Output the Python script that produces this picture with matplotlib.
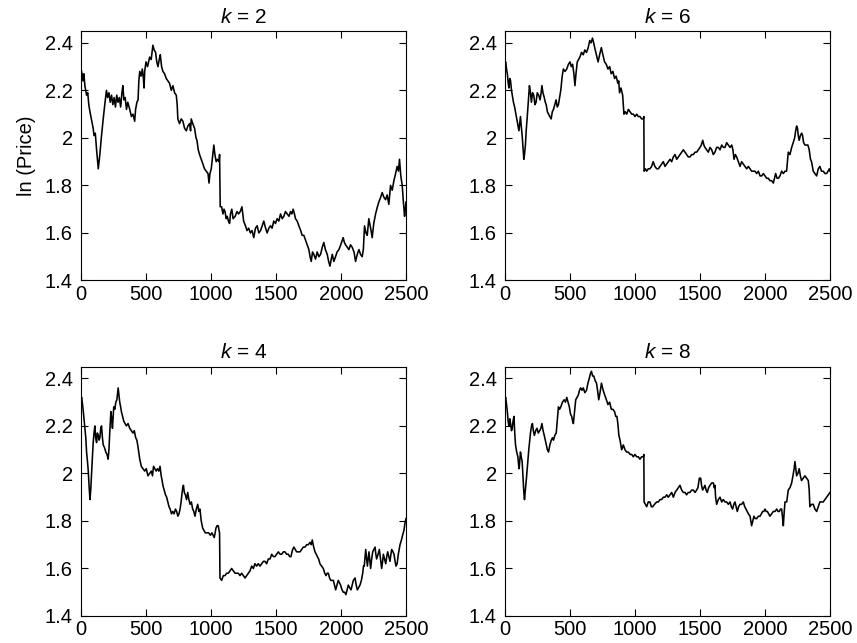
import matplotlib
matplotlib.use("Agg")
import matplotlib.pyplot as plt

plt.rcParams["font.family"] = ["Liberation Sans", "DejaVu Sans"]
plt.rcParams["mathtext.fontset"] = "custom"
plt.rcParams["mathtext.it"] = "Liberation Sans:italic"
plt.rcParams["mathtext.rm"] = "Liberation Sans"

# Data (time step, ln price) ----------------------------------------------------

k2_points = [
    (0, 2.29), (8, 2.27), (15, 2.24), (22, 2.27), (30, 2.22), (43, 2.18), (52, 2.19), (60, 2.14),
    (69, 2.11), (80, 2.08), (94, 2.04), (100, 2.01), (110, 2.02), (120, 1.95), (133, 1.87),
    (145, 1.93), (158, 2.01), (171, 2.08), (185, 2.15), (196, 2.20), (205, 2.17), (215, 2.19),
    (225, 2.15), (235, 2.18), (245, 2.14), (255, 2.17), (265, 2.13), (275, 2.18), (285, 2.15),
    (295, 2.17), (305, 2.13), (315, 2.19), (322, 2.22), (330, 2.16), (340, 2.17), (350, 2.12),
    (360, 2.15), (375, 2.12), (388, 2.09), (400, 2.10), (413, 2.07), (420, 2.12), (430, 2.15),
    (439, 2.16), (445, 2.24), (452, 2.28), (462, 2.26), (472, 2.29), (480, 2.25), (485, 2.21),
    (490, 2.28), (500, 2.32), (512, 2.30), (528, 2.34), (540, 2.33), (553, 2.39), (563, 2.37),
    (574, 2.36), (583, 2.32), (592, 2.30), (602, 2.33), (610, 2.35), (620, 2.30), (630, 2.28),
    (643, 2.27), (656, 2.25), (668, 2.24), (681, 2.23), (695, 2.20), (707, 2.22), (720, 2.19),
    (733, 2.18), (740, 2.14), (745, 2.08), (758, 2.06), (771, 2.08), (784, 2.07), (797, 2.04),
    (810, 2.03), (822, 2.05), (835, 2.06), (843, 2.03), (848, 2.08), (860, 2.06), (874, 2.04),
    (885, 2.00), (892, 1.99), (902, 1.95), (912, 1.93), (925, 1.91), (938, 1.89), (950, 1.87),
    (964, 1.86), (977, 1.85), (985, 1.81), (992, 1.85), (1002, 1.87), (1012, 1.92), (1022, 1.97),
    (1030, 1.93), (1040, 1.90), (1050, 1.91), (1062, 1.90), (1066, 1.93), (1071, 1.71),
    (1082, 1.71), (1092, 1.68), (1100, 1.70), (1108, 1.69), (1117, 1.66), (1125, 1.67),
    (1134, 1.65), (1143, 1.64), (1150, 1.68), (1160, 1.70), (1170, 1.66), (1186, 1.67),
    (1200, 1.69), (1212, 1.68), (1225, 1.69), (1238, 1.71), (1251, 1.65), (1265, 1.63),
    (1277, 1.61), (1290, 1.62), (1303, 1.60), (1316, 1.61), (1329, 1.58), (1342, 1.62),
    (1355, 1.63), (1368, 1.60), (1381, 1.61), (1394, 1.63), (1406, 1.65), (1420, 1.62),
    (1432, 1.60), (1445, 1.62), (1458, 1.63), (1470, 1.62), (1483, 1.65), (1496, 1.64),
    (1509, 1.66), (1522, 1.65), (1535, 1.68), (1548, 1.66), (1560, 1.67), (1573, 1.69),
    (1586, 1.68), (1600, 1.67), (1612, 1.69), (1622, 1.68), (1632, 1.70), (1642, 1.68),
    (1650, 1.66), (1663, 1.65), (1676, 1.63), (1690, 1.61), (1701, 1.59), (1714, 1.59),
    (1727, 1.57), (1740, 1.55), (1753, 1.53), (1762, 1.50), (1771, 1.48), (1781, 1.52),
    (1791, 1.51), (1804, 1.49), (1817, 1.52), (1830, 1.50), (1843, 1.51), (1856, 1.54),
    (1868, 1.56), (1880, 1.53), (1894, 1.51), (1905, 1.48), (1915, 1.46), (1925, 1.49),
    (1933, 1.51), (1945, 1.48), (1958, 1.50), (1970, 1.52), (1984, 1.53), (1998, 1.55),
    (2010, 1.57), (2017, 1.58), (2026, 1.56), (2035, 1.55), (2048, 1.54), (2061, 1.53),
    (2073, 1.55), (2086, 1.54), (2100, 1.52), (2112, 1.48), (2125, 1.51), (2138, 1.53),
    (2150, 1.51), (2163, 1.50), (2172, 1.53), (2181, 1.63), (2192, 1.60), (2202, 1.59),
    (2214, 1.66), (2228, 1.62), (2240, 1.58), (2252, 1.64), (2266, 1.68), (2280, 1.71),
    (2291, 1.73), (2305, 1.75), (2317, 1.77), (2330, 1.75), (2343, 1.74), (2355, 1.76),
    (2368, 1.72), (2381, 1.80), (2394, 1.78), (2407, 1.82), (2420, 1.85), (2432, 1.88),
    (2442, 1.86), (2450, 1.91), (2460, 1.84), (2471, 1.80), (2480, 1.73), (2489, 1.67),
    (2495, 1.70), (2500, 1.73),
]

k6_points = [
    (0, 2.31), (5, 2.32), (12, 2.29), (18, 2.27), (25, 2.23), (30, 2.21), (37, 2.25), (43, 2.24),
    (50, 2.20), (56, 2.18), (65, 2.15), (74, 2.13), (84, 2.10), (94, 2.07), (100, 2.05),
    (107, 2.03), (113, 2.06), (119, 2.09), (125, 2.05), (132, 2.01), (140, 1.95), (145, 1.91),
    (150, 1.93), (157, 1.97), (163, 2.03), (170, 2.08), (180, 2.16), (188, 2.22), (196, 2.19),
    (203, 2.15), (212, 2.19), (221, 2.18), (230, 2.14), (239, 2.15), (248, 2.19), (259, 2.18),
    (270, 2.16), (278, 2.19), (284, 2.22), (292, 2.19), (302, 2.17), (310, 2.15), (317, 2.14),
    (326, 2.11), (335, 2.10), (345, 2.09), (355, 2.08), (364, 2.11), (373, 2.12), (383, 2.14),
    (393, 2.16), (402, 2.13), (411, 2.14), (420, 2.17), (429, 2.20), (440, 2.26), (449, 2.29),
    (462, 2.28), (475, 2.29), (488, 2.31), (500, 2.32), (510, 2.30), (520, 2.31), (530, 2.27),
    (538, 2.22), (546, 2.27), (556, 2.32), (566, 2.33), (576, 2.34), (589, 2.36), (602, 2.35),
    (614, 2.37), (627, 2.36), (640, 2.38), (652, 2.41), (662, 2.40), (673, 2.42), (682, 2.40),
    (690, 2.38), (703, 2.35), (716, 2.32), (728, 2.35), (741, 2.38), (753, 2.35), (766, 2.32),
    (779, 2.31), (792, 2.29), (805, 2.30), (817, 2.27), (830, 2.28), (843, 2.25), (855, 2.26),
    (868, 2.23), (875, 2.24), (881, 2.19), (892, 2.21), (905, 2.18), (915, 2.10), (925, 2.11),
    (936, 2.10), (949, 2.12), (962, 2.11), (975, 2.10), (987, 2.10), (1000, 2.09), (1013, 2.10),
    (1025, 2.09), (1038, 2.09), (1051, 2.08), (1064, 2.08), (1068, 2.09), (1070, 1.86),
    (1080, 1.87), (1090, 1.86), (1102, 1.87), (1115, 1.87), (1128, 1.88), (1140, 1.90),
    (1153, 1.88), (1167, 1.87), (1180, 1.87), (1192, 1.88), (1205, 1.89), (1218, 1.90),
    (1231, 1.88), (1244, 1.89), (1256, 1.90), (1269, 1.91), (1282, 1.90), (1295, 1.92),
    (1308, 1.93), (1321, 1.91), (1334, 1.92), (1346, 1.93), (1359, 1.94), (1372, 1.95),
    (1385, 1.94), (1397, 1.93), (1410, 1.92), (1423, 1.92), (1436, 1.93), (1449, 1.93),
    (1462, 1.94), (1474, 1.94), (1487, 1.95), (1500, 1.96), (1510, 1.97), (1521, 1.99),
    (1530, 1.97), (1538, 1.96), (1551, 1.95), (1564, 1.94), (1577, 1.96), (1590, 1.95),
    (1602, 1.93), (1615, 1.94), (1628, 1.96), (1641, 1.96), (1654, 1.95), (1667, 1.97),
    (1680, 1.96), (1692, 1.96), (1705, 1.98), (1718, 1.97), (1731, 1.96), (1744, 1.97),
    (1753, 1.95), (1762, 1.91), (1772, 1.93), (1782, 1.92), (1795, 1.90), (1808, 1.88),
    (1820, 1.90), (1833, 1.89), (1846, 1.88), (1859, 1.87), (1872, 1.88), (1885, 1.87),
    (1897, 1.86), (1910, 1.86), (1923, 1.86), (1936, 1.85), (1949, 1.86), (1962, 1.84),
    (1975, 1.84), (1987, 1.85), (2000, 1.84), (2013, 1.83), (2026, 1.83), (2038, 1.82),
    (2051, 1.82), (2064, 1.81), (2073, 1.83), (2082, 1.85), (2093, 1.83), (2103, 1.83),
    (2115, 1.84), (2128, 1.86), (2141, 1.85), (2154, 1.86), (2166, 1.86), (2179, 1.94),
    (2192, 1.93), (2205, 1.96), (2217, 1.98), (2228, 2.00), (2236, 2.03), (2243, 2.05),
    (2250, 2.04), (2256, 2.01), (2263, 1.99), (2272, 2.01), (2282, 2.02), (2289, 2.01),
    (2297, 1.98), (2307, 1.97), (2320, 1.97), (2330, 1.97), (2340, 1.95), (2350, 1.91),
    (2358, 1.90), (2371, 1.86), (2384, 1.85), (2397, 1.84), (2410, 1.87), (2422, 1.88),
    (2435, 1.86), (2448, 1.86), (2461, 1.85), (2474, 1.85), (2485, 1.86), (2495, 1.87),
    (2500, 1.86),
]

k4_points = [
    (0, 2.31), (5, 2.32), (12, 2.29), (18, 2.26), (25, 2.22), (31, 2.19), (37, 2.15), (43, 2.09),
    (50, 2.05), (56, 2.01), (62, 1.95), (69, 1.89), (75, 1.93), (82, 2.01), (88, 2.07),
    (94, 2.13), (100, 2.17), (107, 2.20), (113, 2.15), (120, 2.13), (126, 2.17), (133, 2.16),
    (139, 2.14), (145, 2.15), (152, 2.19), (158, 2.20), (165, 2.15), (171, 2.12), (180, 2.11),
    (191, 2.09), (200, 2.08), (209, 2.06), (215, 2.10), (222, 2.18), (230, 2.26), (236, 2.23),
    (242, 2.19), (248, 2.24), (252, 2.28), (260, 2.27), (268, 2.30), (276, 2.31), (286, 2.36),
    (292, 2.33), (298, 2.30), (305, 2.28), (311, 2.26), (320, 2.24), (329, 2.22), (339, 2.21),
    (349, 2.20), (362, 2.21), (375, 2.19), (388, 2.18), (400, 2.17), (410, 2.18), (421, 2.15),
    (430, 2.14), (439, 2.11), (452, 2.06), (464, 2.03), (477, 2.02), (490, 2.01), (502, 2.02),
    (515, 1.99), (528, 2.00), (541, 2.01), (550, 1.99), (558, 2.03), (568, 2.02), (579, 2.01),
    (589, 2.02), (599, 2.01), (608, 2.03), (617, 1.99), (624, 1.97), (630, 1.95), (640, 1.93),
    (650, 1.91), (659, 1.90), (668, 1.88), (677, 1.86), (686, 1.85), (696, 1.83), (706, 1.84),
    (716, 1.83), (727, 1.85), (736, 1.84), (745, 1.82), (754, 1.83), (762, 1.85), (770, 1.88),
    (778, 1.92), (783, 1.94), (788, 1.95), (795, 1.92), (803, 1.91), (812, 1.89), (821, 1.92),
    (830, 1.89), (839, 1.87), (849, 1.88), (859, 1.85), (868, 1.84), (877, 1.82), (887, 1.85),
    (898, 1.87), (906, 1.84), (915, 1.85), (925, 1.80), (936, 1.77), (946, 1.76), (956, 1.75),
    (969, 1.75), (982, 1.75), (995, 1.74), (1007, 1.75), (1016, 1.74), (1025, 1.73),
    (1032, 1.75), (1038, 1.77), (1047, 1.78), (1056, 1.78), (1062, 1.76), (1066, 1.75),
    (1069, 1.56), (1082, 1.55), (1095, 1.57), (1108, 1.57), (1120, 1.58), (1133, 1.58),
    (1146, 1.59), (1159, 1.60), (1172, 1.59), (1185, 1.58), (1197, 1.58), (1210, 1.58),
    (1223, 1.57), (1236, 1.58), (1249, 1.57), (1262, 1.56), (1275, 1.57), (1287, 1.58),
    (1300, 1.59), (1313, 1.61), (1326, 1.60), (1338, 1.62), (1351, 1.61), (1364, 1.62),
    (1377, 1.61), (1390, 1.62), (1403, 1.63), (1415, 1.63), (1428, 1.62), (1441, 1.64),
    (1454, 1.64), (1467, 1.66), (1480, 1.65), (1492, 1.65), (1505, 1.66), (1518, 1.67),
    (1531, 1.66), (1544, 1.66), (1557, 1.67), (1569, 1.67), (1582, 1.66), (1595, 1.66),
    (1605, 1.65), (1615, 1.65), (1628, 1.68), (1638, 1.69), (1648, 1.68), (1659, 1.67),
    (1672, 1.67), (1685, 1.67), (1697, 1.68), (1710, 1.69), (1723, 1.69), (1736, 1.70),
    (1749, 1.70), (1762, 1.71), (1771, 1.70), (1779, 1.72), (1790, 1.69), (1800, 1.67),
    (1810, 1.66), (1818, 1.65), (1828, 1.64), (1838, 1.62), (1851, 1.61), (1864, 1.60),
    (1875, 1.58), (1885, 1.57), (1894, 1.58), (1903, 1.58), (1912, 1.56), (1921, 1.55),
    (1931, 1.55), (1941, 1.55), (1950, 1.53), (1959, 1.51), (1969, 1.53), (1979, 1.55),
    (1988, 1.54), (1997, 1.53), (2008, 1.51), (2018, 1.50), (2028, 1.50), (2038, 1.49),
    (2047, 1.51), (2056, 1.53), (2066, 1.52), (2077, 1.51), (2086, 1.53), (2095, 1.55),
    (2108, 1.56), (2117, 1.53), (2126, 1.51), (2136, 1.52), (2146, 1.53), (2157, 1.55),
    (2167, 1.58), (2173, 1.61), (2179, 1.61), (2185, 1.65), (2190, 1.68), (2197, 1.64),
    (2203, 1.61), (2209, 1.64), (2215, 1.67), (2222, 1.63), (2228, 1.60), (2236, 1.64),
    (2244, 1.67), (2253, 1.68), (2262, 1.69), (2268, 1.66), (2274, 1.64), (2285, 1.66),
    (2295, 1.68), (2304, 1.64), (2313, 1.60), (2320, 1.63), (2326, 1.66), (2335, 1.64),
    (2344, 1.62), (2352, 1.65), (2359, 1.67), (2368, 1.65), (2377, 1.63), (2384, 1.66),
    (2390, 1.68), (2400, 1.67), (2408, 1.66), (2416, 1.63), (2423, 1.61), (2432, 1.62),
    (2441, 1.66), (2454, 1.70), (2465, 1.72), (2474, 1.74), (2484, 1.76), (2492, 1.79),
    (2500, 1.81),
]

k8_points = [
    (0, 2.31), (5, 2.32), (12, 2.29), (18, 2.26), (24, 2.22), (30, 2.20), (37, 2.23), (43, 2.21),
    (50, 2.18), (56, 2.19), (62, 2.22), (69, 2.24), (75, 2.17), (81, 2.12), (90, 2.09),
    (99, 2.07), (104, 2.04), (109, 2.02), (115, 2.06), (119, 2.09), (125, 2.07), (132, 2.05),
    (140, 1.97), (145, 1.92), (150, 1.89), (157, 1.93), (165, 1.98), (174, 2.04), (183, 2.10),
    (190, 2.14), (196, 2.17), (204, 2.20), (211, 2.21), (218, 2.18), (226, 2.16), (236, 2.18),
    (246, 2.19), (256, 2.17), (267, 2.18), (276, 2.19), (284, 2.21), (293, 2.18), (302, 2.16),
    (310, 2.14), (318, 2.12), (326, 2.10), (335, 2.09), (345, 2.12), (356, 2.14), (365, 2.15),
    (373, 2.14), (383, 2.16), (394, 2.17), (402, 2.22), (411, 2.28), (420, 2.27), (429, 2.28),
    (442, 2.30), (455, 2.31), (465, 2.30), (475, 2.32), (485, 2.30), (495, 2.28), (504, 2.25),
    (513, 2.24), (520, 2.22), (526, 2.21), (535, 2.26), (544, 2.31), (554, 2.32), (564, 2.33),
    (573, 2.35), (582, 2.36), (592, 2.35), (602, 2.36), (614, 2.34), (627, 2.35), (638, 2.38),
    (648, 2.40), (657, 2.42), (665, 2.43), (674, 2.41), (683, 2.41), (694, 2.39), (704, 2.38),
    (712, 2.35), (721, 2.31), (731, 2.34), (742, 2.38), (755, 2.35), (767, 2.33), (780, 2.31),
    (792, 2.29), (805, 2.30), (818, 2.27), (830, 2.27), (843, 2.26), (852, 2.24), (861, 2.24),
    (868, 2.21), (876, 2.16), (885, 2.14), (891, 2.12), (897, 2.10), (904, 2.11), (910, 2.12),
    (923, 2.10), (936, 2.09), (949, 2.09), (962, 2.08), (975, 2.08), (987, 2.07), (1000, 2.08),
    (1013, 2.07), (1026, 2.07), (1038, 2.06), (1051, 2.07), (1064, 2.07), (1068, 2.08),
    (1070, 1.88), (1080, 1.87), (1090, 1.86), (1102, 1.88), (1115, 1.88), (1126, 1.86),
    (1136, 1.86), (1150, 1.87), (1167, 1.88), (1180, 1.88), (1192, 1.89), (1205, 1.89),
    (1218, 1.90), (1231, 1.90), (1244, 1.91), (1256, 1.90), (1269, 1.91), (1282, 1.92),
    (1295, 1.90), (1308, 1.92), (1321, 1.93), (1334, 1.94), (1346, 1.95), (1359, 1.93),
    (1372, 1.92), (1385, 1.92), (1397, 1.91), (1410, 1.92), (1423, 1.92), (1436, 1.93),
    (1449, 1.93), (1462, 1.92), (1474, 1.93), (1484, 1.94), (1495, 1.98), (1505, 1.98),
    (1512, 1.95), (1520, 1.93), (1530, 1.94), (1538, 1.95), (1547, 1.93), (1556, 1.92),
    (1566, 1.94), (1577, 1.95), (1590, 1.96), (1603, 1.96), (1610, 1.94), (1615, 1.95),
    (1620, 1.90), (1628, 1.87), (1641, 1.89), (1654, 1.90), (1667, 1.88), (1679, 1.89),
    (1692, 1.88), (1705, 1.88), (1718, 1.87), (1731, 1.88), (1741, 1.86), (1751, 1.85),
    (1760, 1.87), (1769, 1.88), (1778, 1.86), (1787, 1.84), (1797, 1.86), (1808, 1.87),
    (1820, 1.87), (1833, 1.88), (1844, 1.86), (1854, 1.85), (1863, 1.84), (1872, 1.83),
    (1885, 1.82), (1891, 1.80), (1897, 1.78), (1906, 1.80), (1915, 1.82), (1925, 1.81),
    (1936, 1.81), (1949, 1.82), (1962, 1.82), (1972, 1.83), (1982, 1.84), (1991, 1.84),
    (2000, 1.85), (2009, 1.84), (2018, 1.84), (2028, 1.83), (2038, 1.82), (2051, 1.83),
    (2064, 1.84), (2077, 1.84), (2090, 1.85), (2100, 1.84), (2110, 1.84), (2120, 1.85),
    (2128, 1.85), (2134, 1.82), (2141, 1.78), (2148, 1.84), (2154, 1.88), (2167, 1.88),
    (2179, 1.93), (2192, 1.94), (2205, 1.96), (2215, 1.99), (2224, 2.02), (2230, 2.05),
    (2237, 2.02), (2243, 1.99), (2253, 2.00), (2263, 2.02), (2272, 1.99), (2281, 1.97),
    (2294, 1.98), (2307, 1.99), (2320, 1.98), (2333, 1.97), (2340, 1.93), (2345, 1.86),
    (2358, 1.87), (2371, 1.87), (2384, 1.85), (2397, 1.84), (2410, 1.86), (2422, 1.88),
    (2435, 1.88), (2448, 1.88), (2461, 1.89), (2474, 1.90), (2487, 1.91), (2500, 1.92),
]

x_ticks = [0, 500, 1000, 1500, 2000, 2500]
y_ticks = [1.4, 1.6, 1.8, 2.0, 2.2, 2.4]
y_tick_labels = ["1.4", "1.6", "1.8", "2", "2.2", "2.4"]


# Utilities ----------------------------------------------------------------------


def plot_panel(ax, title, points):
    t = [p[0] for p in points]
    v = [p[1] for p in points]
    ax.plot(t, v, color="black", linewidth=1.15)
    ax.set_xlim(0, 2500)
    ax.set_ylim(1.4, 2.45)
    ax.set_xticks(x_ticks)
    ax.set_yticks(y_ticks)
    ax.set_yticklabels(y_tick_labels)
    ax.tick_params(direction="in", top=True, right=True, length=5, width=0.8, labelsize=14.5)
    ax.tick_params(axis="x", pad=3)
    ax.tick_params(axis="y", pad=6)
    for spine in ax.spines.values():
        spine.set_linewidth(0.8)
    ax.set_title(title, fontsize=15, pad=6)


# Figure -------------------------------------------------------------------------

fig, axs = plt.subplots(2, 2, figsize=(8.57, 6.43), dpi=100)
fig.subplots_adjust(left=0.0945, right=0.9685, top=0.9518, bottom=0.042, wspace=0.3046, hspace=0.345)

plot_panel(axs[0, 0], "$k$ = 2", k2_points)
plot_panel(axs[0, 1], "$k$ = 6", k6_points)
plot_panel(axs[1, 0], "$k$ = 4", k4_points)
plot_panel(axs[1, 1], "$k$ = 8", k8_points)
axs[0, 0].set_ylabel("ln (Price)", fontsize=14.5, labelpad=6)

fig.savefig("out.png", dpi=100)
